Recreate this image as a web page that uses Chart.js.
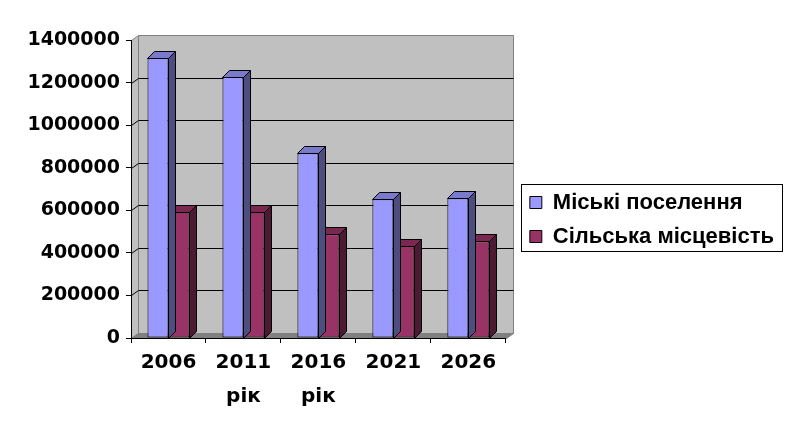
<!DOCTYPE html>
<html>
<head>
<meta charset="utf-8">
<script src="https://cdn.jsdelivr.net/npm/chart.js@4"></script>
<style>
  html, body { margin: 0; padding: 0; background: #ffffff; }
  #wrap { width: 796px; height: 435px; position: relative; }
</style>
</head>
<body>
<div id="wrap"><canvas id="chart"></canvas></div>
<script>
// ---- data ----
const categories = ['2006', ['2011', 'рік'], ['2016', 'рік'], '2021', '2026'];
const seriesNames = ['Міські поселення', 'Сільська місцевість'];
const urbanValues = [1315000, 1228000, 868000, 652000, 656000];
const ruralValues = [593000, 593000, 487000, 434000, 454000];
const yMin = 0;
const yMax = 1400000;
const yStep = 200000;

// ---- styles ----
const frontColors = ['#9999FF', '#993366'];
const topColors = ['#7A7ACC', '#7A2852'];
const sideColors = ['#4D4D80', '#4D1A33'];
const WALL_DX = 7, WALL_DY = 5, BAR_DX = 7, BAR_DY = 7;

const px = v => Math.round(v) + 0.5;

function poly(ctx, pts, fill, stroke) {
  ctx.beginPath();
  pts.forEach((p, i) => i ? ctx.lineTo(px(p[0]), px(p[1])) : ctx.moveTo(px(p[0]), px(p[1])));
  ctx.closePath();
  if (fill) { ctx.fillStyle = fill; ctx.fill(); }
  if (stroke) { ctx.strokeStyle = stroke; ctx.stroke(); }
}

const threeD = {
  id: 'threeD',
  beforeDraw(chart) {
    const { ctx, chartArea: a, scales } = chart;
    const y = scales.y;
    const L = a.left, R = a.right, T = a.top, B = a.bottom;
    ctx.save();
    ctx.lineWidth = 1;
    poly(ctx, [[L + WALL_DX, T - WALL_DY], [R + WALL_DX, T - WALL_DY], [R + WALL_DX, B - WALL_DY], [L + WALL_DX, B - WALL_DY]], '#C0C0C0', '#808080');
    poly(ctx, [[L, T], [L + WALL_DX, T - WALL_DY], [L + WALL_DX, B - WALL_DY], [L, B]], '#C0C0C0', '#808080');
    poly(ctx, [[L, B], [R, B], [R + WALL_DX, B - WALL_DY], [L + WALL_DX, B - WALL_DY]], '#808080', '#808080');
    ctx.strokeStyle = '#000000';
    for (let v = yMin + yStep; v < yMax; v += yStep) {
      const yy = y.getPixelForValue(v);
      ctx.beginPath();
      ctx.moveTo(px(L), px(yy));
      ctx.lineTo(px(L + WALL_DX), px(yy - WALL_DY));
      ctx.lineTo(px(R + WALL_DX), px(yy - WALL_DY));
      ctx.stroke();
    }
    ctx.restore();
  },
  afterDatasetDraw(chart, args) {
    const { ctx } = chart;
    const i = args.index;
    ctx.save();
    ctx.lineWidth = 1;
    args.meta.data.forEach(bar => {
      const { x, y, base, width } = bar.getProps(['x', 'y', 'base', 'width'], true);
      const l = x - width / 2, r = x + width / 2;
      poly(ctx, [[r, y], [r + BAR_DX, y - BAR_DY], [r + BAR_DX, base - BAR_DY], [r, base]], sideColors[i], '#000000');
      poly(ctx, [[l, y], [l + BAR_DX, y - BAR_DY], [r + BAR_DX, y - BAR_DY], [r, y]], topColors[i], '#000000');
    });
    ctx.restore();
  },
  afterDraw(chart) {
    const lg = chart.legend;
    if (!lg || !lg.legendHitBoxes || !lg.legendHitBoxes.length) return;
    const hb = lg.legendHitBoxes;
    const left = hb[0].left - 9;
    const right = Math.max(...hb.map(h => h.left + h.width)) + 8;
    const top = hb[0].top - 8;
    const last = hb[hb.length - 1];
    const bottom = last.top + last.height + 3;
    const { ctx } = chart;
    ctx.save();
    ctx.lineWidth = 1;
    ctx.strokeStyle = '#000000';
    ctx.strokeRect(px(left), px(top), Math.round(right - left), Math.round(bottom - top));
    ctx.restore();
  }
};

new Chart(document.getElementById('chart'), {
  type: 'bar',
  data: {
    labels: categories,
    datasets: [
      { label: seriesNames[0], data: urbanValues, backgroundColor: frontColors[0], borderColor: '#000000', borderWidth: 1, borderSkipped: false },
      { label: seriesNames[1], data: ruralValues, backgroundColor: frontColors[1], borderColor: '#000000', borderWidth: 1, borderSkipped: false }
    ]
  },
  options: {
    responsive: true,
    maintainAspectRatio: false,
    animation: false,
    devicePixelRatio: 1,
    barPercentage: 1,
    categoryPercentage: 0.56,
    layout: { padding: { left: 27, top: 28, right: 12, bottom: 24 } },
    plugins: {
      tooltip: { enabled: false },
      legend: {
        position: 'right',
        align: 'center',
        maxWidth: 400,
        labels: {
          boxWidth: 12,
          boxHeight: 12,
          padding: 12,
          color: '#000000',
          font: { family: 'Liberation Sans', weight: 'bold', size: 22 }
        }
      }
    },
    scales: {
      x: {
        type: 'category',
        position: 'bottom',
        offset: true,
        grid: { display: true, drawOnChartArea: false, drawTicks: true, tickLength: 5, color: '#000000', offset: true },
        border: { display: true, color: '#000000', width: 1 },
        ticks: { color: '#000000', padding: 3, maxRotation: 0, autoSkip: false,
                 font: { family: 'DejaVu Sans', weight: 'bold', size: 20, lineHeight: 1.7 } },
        afterFit(s) { s.height = 73; }
      },
      y: {
        position: 'left',
        min: yMin,
        max: yMax,
        grid: { display: true, drawOnChartArea: false, drawTicks: true, tickLength: 5, color: '#000000' },
        border: { display: true, color: '#000000', width: 1 },
        ticks: { stepSize: yStep, color: '#000000', padding: 6,
                 font: { family: 'DejaVu Sans', weight: 'bold', size: 19 }, callback: v => String(v) },
        afterFit(s) { s.width = 104; }
      },
      topSpacer: {
        type: 'category',
        position: 'top',
        display: true,
        grid: { display: false },
        border: { display: false },
        ticks: { display: false },
        afterFit(s) { s.height = 12; }
      },
      rightSpacer: {
        type: 'linear',
        position: 'right',
        display: true,
        grid: { display: false },
        border: { display: false },
        ticks: { display: false },
        afterFit(s) { s.width = 12; }
      }
    }
  },
  plugins: [threeD]
});
</script>
</body>
</html>
